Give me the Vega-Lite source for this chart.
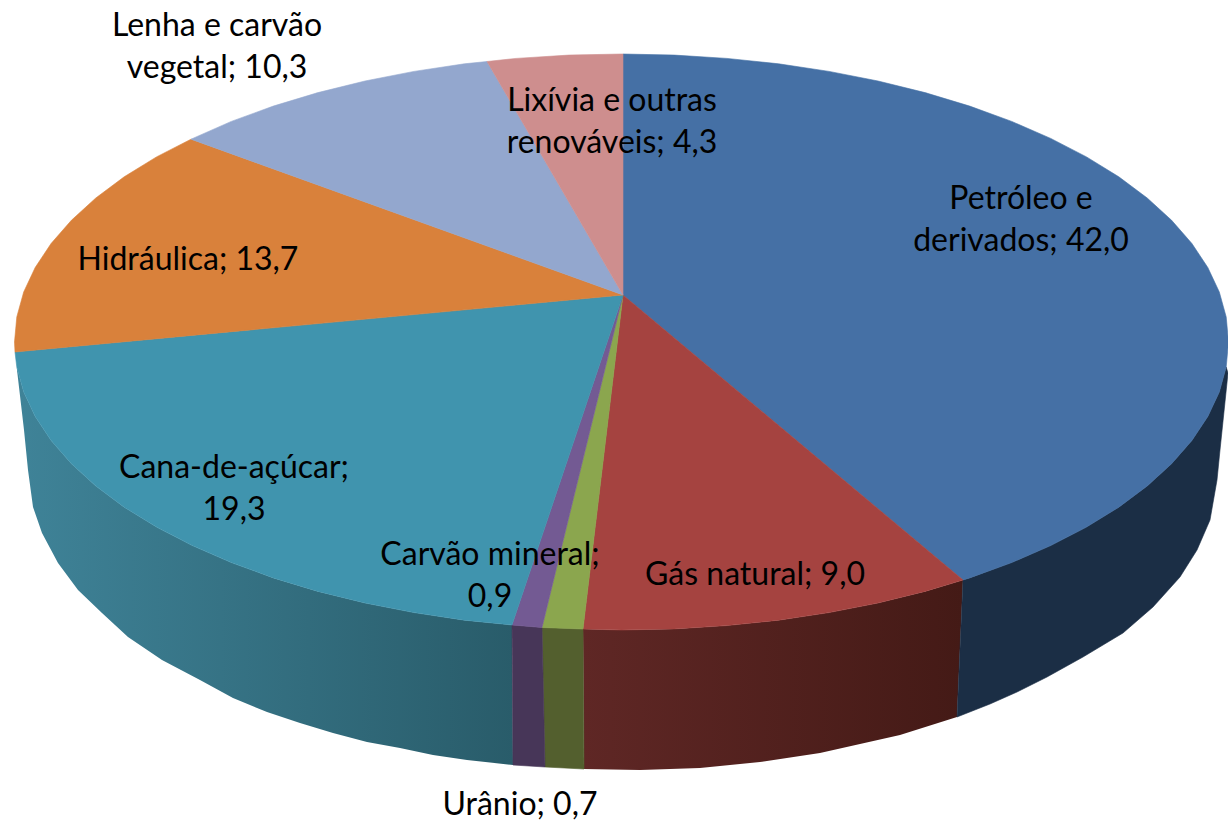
{"$schema":"https://vega.github.io/schema/vega-lite/v6.json","width":1228,"height":821,"padding":0,"autosize":{"type":"none"},"background":"white","config":{"view":{"stroke":null}},
"datasets":{"outline":[
{"piece":"petroleo_lado","i":0,"x":603.2,"y":-72.1},{"piece":"petroleo_lado","i":1,"x":596.3,"y":-97},{"piece":"petroleo_lado","i":2,"x":584.8,"y":-121.5},{"piece":"petroleo_lado","i":3,"x":568.9,"y":-145.5},{"piece":"petroleo_lado","i":4,"x":548.6,"y":-168.7},{"piece":"petroleo_lado","i":5,"x":524.2,"y":-191},{"piece":"petroleo_lado","i":6,"x":495.8,"y":-212.2},{"piece":"petroleo_lado","i":7,"x":463.5,"y":-232.1},{"piece":"petroleo_lado","i":8,"x":427.7,"y":-250.6},{"piece":"petroleo_lado","i":9,"x":388.7,"y":-267.6},{"piece":"petroleo_lado","i":10,"x":346.7,"y":-282.9},{"piece":"petroleo_lado","i":11,"x":340,"y":-285},{"piece":"petroleo_lado","i":12,"x":334,"y":-422},{"piece":"petroleo_lado","i":13,"x":367,"y":-409},{"piece":"petroleo_lado","i":14,"x":394,"y":-397},{"piece":"petroleo_lado","i":15,"x":424,"y":-382},{"piece":"petroleo_lado","i":16,"x":460,"y":-362},{"piece":"petroleo_lado","i":17,"x":500,"y":-338},{"piece":"petroleo_lado","i":18,"x":530,"y":-312},{"piece":"petroleo_lado","i":19,"x":557,"y":-282},{"piece":"petroleo_lado","i":20,"x":574,"y":-255},{"piece":"petroleo_lado","i":21,"x":587,"y":-225},{"piece":"petroleo_lado","i":22,"x":594,"y":-185},{"piece":"petroleo_lado","i":23,"x":597,"y":-155},{"piece":"petroleo_lado","i":24,"x":605,"y":-78},
{"piece":"uranio_lado","i":0,"x":-40,"y":-334},{"piece":"uranio_lado","i":1,"x":-81,"y":-332.5},{"piece":"uranio_lado","i":2,"x":-78,"y":-472},{"piece":"uranio_lado","i":3,"x":-39,"y":-474},
{"piece":"carvao_lado","i":0,"x":-81,"y":-332.5},{"piece":"carvao_lado","i":1,"x":-111,"y":-330},{"piece":"carvao_lado","i":2,"x":-110,"y":-470},{"piece":"carvao_lado","i":3,"x":-78,"y":-472},
{"piece":"gas_grad","i":0,"x":340,"y":-285},{"piece":"gas_grad","i":1,"x":302,"y":-296.4},{"piece":"gas_grad","i":2,"x":255,"y":-308},{"piece":"gas_grad","i":3,"x":206.1,"y":-317.6},{"piece":"gas_grad","i":4,"x":155.6,"y":-325.2},{"piece":"gas_grad","i":5,"x":103.9,"y":-330.6},{"piece":"gas_grad","i":6,"x":51.4,"y":-333.9},{"piece":"gas_grad","i":7,"x":-1.5,"y":-335},{"piece":"gas_grad","i":8,"x":-40,"y":-334},{"piece":"gas_grad","i":9,"x":-39,"y":-474},{"piece":"gas_grad","i":10,"x":17,"y":-475},{"piece":"gas_grad","i":11,"x":77,"y":-473},{"piece":"gas_grad","i":12,"x":137,"y":-467},{"piece":"gas_grad","i":13,"x":197,"y":-458},{"piece":"gas_grad","i":14,"x":277,"y":-440},{"piece":"gas_grad","i":15,"x":334,"y":-422},
{"piece":"cana_grad","i":0,"x":-111,"y":-330},{"piece":"cana_grad","i":1,"x":-158.6,"y":-325.2},{"piece":"cana_grad","i":2,"x":-209.1,"y":-317.6},{"piece":"cana_grad","i":3,"x":-258,"y":-308},{"piece":"cana_grad","i":4,"x":-305,"y":-296.4},{"piece":"cana_grad","i":5,"x":-349.7,"y":-282.9},{"piece":"cana_grad","i":6,"x":-391.7,"y":-267.6},{"piece":"cana_grad","i":7,"x":-430.7,"y":-250.6},{"piece":"cana_grad","i":8,"x":-466.5,"y":-232.1},{"piece":"cana_grad","i":9,"x":-498.8,"y":-212.2},{"piece":"cana_grad","i":10,"x":-527.2,"y":-191},{"piece":"cana_grad","i":11,"x":-551.6,"y":-168.7},{"piece":"cana_grad","i":12,"x":-571.9,"y":-145.5},{"piece":"cana_grad","i":13,"x":-587.8,"y":-121.5},{"piece":"cana_grad","i":14,"x":-599.3,"y":-97},{"piece":"cana_grad","i":15,"x":-606.2,"y":-72.1},{"piece":"cana_grad","i":16,"x":-606,"y":-75},{"piece":"cana_grad","i":17,"x":-599,"y":-135},{"piece":"cana_grad","i":18,"x":-595,"y":-175},{"piece":"cana_grad","i":19,"x":-590,"y":-212},{"piece":"cana_grad","i":20,"x":-581,"y":-238},{"piece":"cana_grad","i":21,"x":-565,"y":-268},{"piece":"cana_grad","i":22,"x":-545,"y":-295},{"piece":"cana_grad","i":23,"x":-521,"y":-318},{"piece":"cana_grad","i":24,"x":-495,"y":-342},{"piece":"cana_grad","i":25,"x":-461,"y":-365},{"piece":"cana_grad","i":26,"x":-423,"y":-385},{"piece":"cana_grad","i":27,"x":-390,"y":-403},{"piece":"cana_grad","i":28,"x":-356,"y":-417},{"piece":"cana_grad","i":29,"x":-323,"y":-428},{"piece":"cana_grad","i":30,"x":-290,"y":-438},{"piece":"cana_grad","i":31,"x":-256,"y":-447},{"piece":"cana_grad","i":32,"x":-223,"y":-453},{"piece":"cana_grad","i":33,"x":-190,"y":-460},{"piece":"cana_grad","i":34,"x":-156,"y":-465},{"piece":"cana_grad","i":35,"x":-110,"y":-470},
{"piece":"petroleo","i":0,"x":0,"y":0},{"piece":"petroleo","i":1,"x":0,"y":241},{"piece":"petroleo","i":2,"x":51.4,"y":239.9},{"piece":"petroleo","i":3,"x":103.9,"y":236.6},{"piece":"petroleo","i":4,"x":155.6,"y":231.2},{"piece":"petroleo","i":5,"x":206.1,"y":223.6},{"piece":"petroleo","i":6,"x":255,"y":214},{"piece":"petroleo","i":7,"x":302,"y":202.4},{"piece":"petroleo","i":8,"x":346.7,"y":188.9},{"piece":"petroleo","i":9,"x":388.7,"y":173.6},{"piece":"petroleo","i":10,"x":427.7,"y":156.6},{"piece":"petroleo","i":11,"x":463.5,"y":138.1},{"piece":"petroleo","i":12,"x":495.8,"y":118.2},{"piece":"petroleo","i":13,"x":524.2,"y":97},{"piece":"petroleo","i":14,"x":548.6,"y":74.7},{"piece":"petroleo","i":15,"x":568.9,"y":51.5},{"piece":"petroleo","i":16,"x":584.8,"y":27.5},{"piece":"petroleo","i":17,"x":596.3,"y":3},{"piece":"petroleo","i":18,"x":603.2,"y":-21.9},{"piece":"petroleo","i":19,"x":605.5,"y":-47},{"piece":"petroleo","i":20,"x":603.2,"y":-72.1},{"piece":"petroleo","i":21,"x":596.3,"y":-97},{"piece":"petroleo","i":22,"x":584.8,"y":-121.5},{"piece":"petroleo","i":23,"x":568.9,"y":-145.5},{"piece":"petroleo","i":24,"x":548.6,"y":-168.7},{"piece":"petroleo","i":25,"x":524.2,"y":-191},{"piece":"petroleo","i":26,"x":495.8,"y":-212.2},{"piece":"petroleo","i":27,"x":463.5,"y":-232.1},{"piece":"petroleo","i":28,"x":427.7,"y":-250.6},{"piece":"petroleo","i":29,"x":388.7,"y":-267.6},{"piece":"petroleo","i":30,"x":346.7,"y":-282.9},{"piece":"petroleo","i":31,"x":340,"y":-285},
{"piece":"gas","i":0,"x":0,"y":0},{"piece":"gas","i":1,"x":340,"y":-285},{"piece":"gas","i":2,"x":302,"y":-296.4},{"piece":"gas","i":3,"x":255,"y":-308},{"piece":"gas","i":4,"x":206.1,"y":-317.6},{"piece":"gas","i":5,"x":155.6,"y":-325.2},{"piece":"gas","i":6,"x":103.9,"y":-330.6},{"piece":"gas","i":7,"x":51.4,"y":-333.9},{"piece":"gas","i":8,"x":-1.5,"y":-335},{"piece":"gas","i":9,"x":-40,"y":-334},
{"piece":"uranio","i":0,"x":0,"y":0},{"piece":"uranio","i":1,"x":-40,"y":-334},{"piece":"uranio","i":2,"x":-81,"y":-332.5},
{"piece":"carvao","i":0,"x":0,"y":0},{"piece":"carvao","i":1,"x":-81,"y":-332.5},{"piece":"carvao","i":2,"x":-111,"y":-330},
{"piece":"cana","i":0,"x":0,"y":0},{"piece":"cana","i":1,"x":-111,"y":-330},{"piece":"cana","i":2,"x":-158.6,"y":-325.2},{"piece":"cana","i":3,"x":-209.1,"y":-317.6},{"piece":"cana","i":4,"x":-258,"y":-308},{"piece":"cana","i":5,"x":-305,"y":-296.4},{"piece":"cana","i":6,"x":-349.7,"y":-282.9},{"piece":"cana","i":7,"x":-391.7,"y":-267.6},{"piece":"cana","i":8,"x":-430.7,"y":-250.6},{"piece":"cana","i":9,"x":-466.5,"y":-232.1},{"piece":"cana","i":10,"x":-498.8,"y":-212.2},{"piece":"cana","i":11,"x":-527.2,"y":-191},{"piece":"cana","i":12,"x":-551.6,"y":-168.7},{"piece":"cana","i":13,"x":-571.9,"y":-145.5},{"piece":"cana","i":14,"x":-587.8,"y":-121.5},{"piece":"cana","i":15,"x":-599.3,"y":-97},{"piece":"cana","i":16,"x":-606.2,"y":-72.1},{"piece":"cana","i":17,"x":-608,"y":-57},
{"piece":"hidraulica","i":0,"x":0,"y":0},{"piece":"hidraulica","i":1,"x":-608,"y":-57},{"piece":"hidraulica","i":2,"x":-608.5,"y":-47},{"piece":"hidraulica","i":3,"x":-606.2,"y":-21.9},{"piece":"hidraulica","i":4,"x":-599.3,"y":3},{"piece":"hidraulica","i":5,"x":-587.8,"y":27.5},{"piece":"hidraulica","i":6,"x":-571.9,"y":51.5},{"piece":"hidraulica","i":7,"x":-551.6,"y":74.7},{"piece":"hidraulica","i":8,"x":-527.2,"y":97},{"piece":"hidraulica","i":9,"x":-498.8,"y":118.2},{"piece":"hidraulica","i":10,"x":-466.5,"y":138.1},{"piece":"hidraulica","i":11,"x":-432,"y":155.8},
{"piece":"lenha","i":0,"x":0,"y":0},{"piece":"lenha","i":1,"x":-432,"y":155.8},{"piece":"lenha","i":2,"x":-391.7,"y":173.6},{"piece":"lenha","i":3,"x":-349.7,"y":188.9},{"piece":"lenha","i":4,"x":-305,"y":202.4},{"piece":"lenha","i":5,"x":-258,"y":214},{"piece":"lenha","i":6,"x":-209.1,"y":223.6},{"piece":"lenha","i":7,"x":-158.6,"y":231.2},{"piece":"lenha","i":8,"x":-136,"y":233.5},
{"piece":"lixivia","i":0,"x":0,"y":0},{"piece":"lixivia","i":1,"x":-136,"y":233.5},{"piece":"lixivia","i":2,"x":-106.9,"y":236.6},{"piece":"lixivia","i":3,"x":-54.4,"y":239.9},{"piece":"lixivia","i":4,"x":-1.5,"y":241},{"piece":"lixivia","i":5,"x":0,"y":241}
],
"labels":[
{"fonte":"Petróleo e derivados","valor":42.0,"rotulo":["Petróleo e","derivados; 42,0"],"x":398,"y":96},
{"fonte":"Gás natural","valor":9.0,"rotulo":["Gás natural; 9,0"],"x":132,"y":-280},
{"fonte":"Urânio","valor":0.7,"rotulo":["Urânio; 0,7"],"x":-103,"y":-510},
{"fonte":"Carvão mineral","valor":0.9,"rotulo":["Carvão mineral;","0,9"],"x":-133,"y":-260},
{"fonte":"Cana-de-açúcar","valor":19.3,"rotulo":["Cana-de-açúcar;","19,3"],"x":-389,"y":-173},
{"fonte":"Hidráulica","valor":13.7,"rotulo":["Hidráulica; 13,7"],"x":-435,"y":35},
{"fonte":"Lenha e carvão vegetal","valor":10.3,"rotulo":["Lenha e carvão","vegetal; 10,3"],"x":-406,"y":269},
{"fonte":"Lixívia e outras renováveis","valor":4.3,"rotulo":["Lixívia e outras","renováveis; 4,3"],"x":-11,"y":194}
]},
"layer":[
{"data":{"name":"outline"},"transform":[{"filter":"datum.piece==='gas_grad'"}],
 "mark":{"type":"line","filled":true,"interpolate":"linear-closed","strokeWidth":0,"fill":{"gradient":"linear","x1":0,"y1":0,"x2":1,"y2":0,"stops":[{"offset":0,"color":"#5F2725"},{"offset":1,"color":"#441A16"}]}},
 "encoding":{"x":{"field":"x","type":"quantitative","scale":{"domain":[-623,605]},"axis":null},"y":{"field":"y","type":"quantitative","scale":{"domain":[-526,295]},"axis":null},"order":{"field":"i","type":"quantitative"}}},
{"data":{"name":"outline"},"transform":[{"filter":"datum.piece==='cana_grad'"}],
 "mark":{"type":"line","filled":true,"interpolate":"linear-closed","strokeWidth":0,"fill":{"gradient":"linear","x1":0,"y1":0,"x2":1,"y2":0,"stops":[{"offset":0,"color":"#3F8398"},{"offset":1,"color":"#295C6A"}]}},
 "encoding":{"x":{"field":"x","type":"quantitative","scale":{"domain":[-623,605]},"axis":null},"y":{"field":"y","type":"quantitative","scale":{"domain":[-526,295]},"axis":null},"order":{"field":"i","type":"quantitative"}}},
{"data":{"name":"outline"},"transform":[{"filter":"datum.piece!=='gas_grad'&&datum.piece!=='cana_grad'"}],
 "mark":{"type":"line","filled":true,"interpolate":"linear-closed","strokeWidth":0.6},
 "encoding":{"x":{"field":"x","type":"quantitative","scale":{"domain":[-623,605]},"axis":null},"y":{"field":"y","type":"quantitative","scale":{"domain":[-526,295]},"axis":null},"order":{"field":"i","type":"quantitative"},
 "color":{"field":"piece","type":"nominal","legend":null,"scale":{"domain":["petroleo_lado","uranio_lado","carvao_lado","petroleo","gas","uranio","carvao","cana","hidraulica","lenha","lixivia"],"range":["#1B2E45","#535F2E","#473658","#4570A5","#A54340","#8BA64E","#735A93","#4094AE","#D9813B","#93A7CE","#CE8E8E"]}},
 "stroke":{"field":"piece","type":"nominal","legend":null,"scale":{"domain":["petroleo_lado","uranio_lado","carvao_lado","petroleo","gas","uranio","carvao","cana","hidraulica","lenha","lixivia"],"range":["#1B2E45","#535F2E","#473658","#4570A5","#A54340","#8BA64E","#735A93","#4094AE","#D9813B","#93A7CE","#CE8E8E"]}}}},
{"data":{"name":"labels"},"mark":{"type":"text","font":"Lato","fontSize":32,"lineHeight":42,"align":"center","baseline":"middle","color":"#000000"},
 "encoding":{"x":{"field":"x","type":"quantitative","scale":{"domain":[-623,605]},"axis":null},"y":{"field":"y","type":"quantitative","scale":{"domain":[-526,295]},"axis":null},"text":{"field":"rotulo"}}}
]}
